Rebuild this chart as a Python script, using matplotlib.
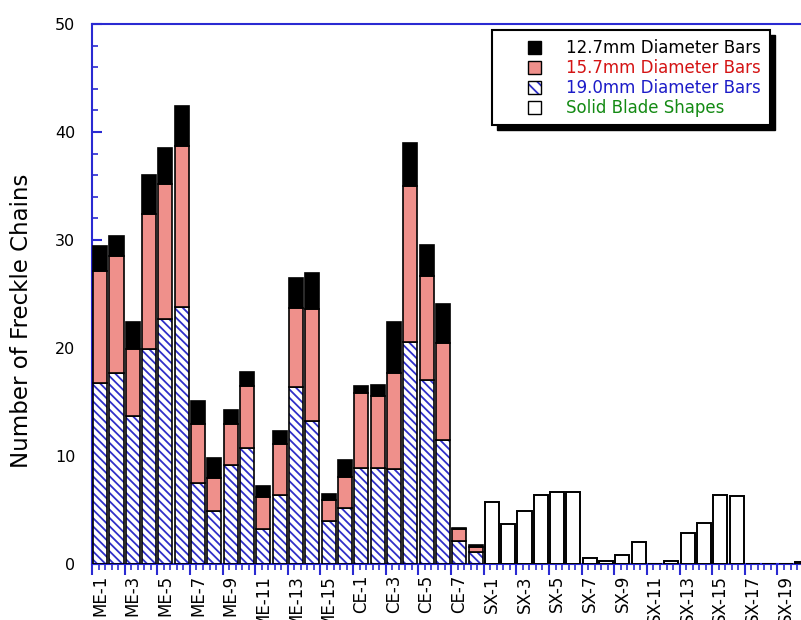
import numpy as np
import matplotlib
matplotlib.use("Agg")
import matplotlib.pyplot as plt
from matplotlib.patches import Patch, Rectangle
from matplotlib.ticker import MultipleLocator

# categories (ME / CE bar samples, then SX solid blade shapes)
bar_labels = ['ME-1', 'ME-2', 'ME-3', 'ME-4', 'ME-5', 'ME-6', 'ME-7', 'ME-8',
              'ME-9', 'ME-10', 'ME-11', 'ME-12', 'ME-13', 'ME-14', 'ME-15', 'ME-16',
              'CE-1', 'CE-2', 'CE-3', 'CE-4', 'CE-5', 'CE-6', 'CE-7', 'CE-8']
sx_labels = ['SX-1', 'SX-2', 'SX-3', 'SX-4', 'SX-5', 'SX-6', 'SX-7', 'SX-8',
             'SX-9', 'SX-10', 'SX-11', 'SX-12', 'SX-13', 'SX-14', 'SX-15', 'SX-16',
             'SX-17', 'SX-18', 'SX-19', 'SX-20']

# stacked values, given as the top of each segment (cumulative)
d190_top = [16.8, 17.7, 13.7, 19.9, 22.7, 23.8, 7.5, 4.9, 9.2, 10.7, 3.2, 6.4,
            16.4, 13.2, 4.0, 5.2, 8.9, 8.9, 8.8, 20.6, 17.0, 11.5, 2.1, 1.14]
d157_top = [27.1, 28.5, 19.9, 32.4, 35.2, 38.7, 13.0, 8.0, 13.0, 16.5, 6.2, 11.1,
            23.7, 23.6, 5.9, 8.1, 15.8, 15.6, 17.7, 35.0, 26.7, 20.5, 3.2, 1.6]
d127_top = [29.4, 30.4, 22.4, 36.0, 38.5, 42.4, 15.1, 9.8, 14.3, 17.8, 7.2, 12.3,
            26.5, 26.9, 6.5, 9.6, 16.5, 16.6, 22.4, 39.0, 29.5, 24.1, 3.3, 1.76]
# solid blade shapes
sx_vals = [5.7, 3.7, 4.9, 6.4, 6.7, 6.7, 0.53, 0.25, 0.83, 2.0, 0.0, 0.28,
           2.9, 3.8, 6.4, 6.3, 0.0, 0.0, 0.0, 0.2]

categories = bar_labels + sx_labels

axis_blue = '#2a2ad2'
hatch_blue = '#2f2fc8'
pink = '#ef908b'
width = 0.86

plt.rcParams['font.family'] = ['DejaVu Sans']
plt.rcParams['hatch.linewidth'] = 1.3

fig = plt.figure(figsize=(8.01, 6.2), dpi=100)
ax = fig.add_axes([92 / 801, 56 / 620, 709 / 801, 540 / 620])

xb = np.arange(len(bar_labels))
xs = np.arange(len(bar_labels), len(categories))
b190 = np.array(d190_top)
b157 = np.array(d157_top)
b127 = np.array(d127_top)

# blue hatched part (hatch drawn in blue, outline drawn separately in black)
ax.bar(xb, b190, width, color='white', edgecolor=hatch_blue, hatch='\\\\\\\\',
       linewidth=0, zorder=2)
ax.bar(xb, b190, width, facecolor='none', edgecolor='black', linewidth=1.2, zorder=3)
ax.bar(xb, b157 - b190, width, bottom=b190, color=pink, edgecolor='black',
       linewidth=1.2, zorder=3)
ax.bar(xb, b127 - b157, width, bottom=b157, color='black', edgecolor='black',
       linewidth=1.2, zorder=3)
ax.bar(xs, sx_vals, width, color='white', edgecolor='black', linewidth=1.4, zorder=3)

ax.set_xlim(-width / 2, 42.94)
ax.set_ylim(0, 50)

for side in ['left', 'bottom', 'top']:
    ax.spines[side].set_color(axis_blue)
    ax.spines[side].set_linewidth(1.5)
ax.spines['right'].set_visible(False)

# y ticks point inward
ax.yaxis.set_major_locator(MultipleLocator(10))
ax.yaxis.set_minor_locator(MultipleLocator(2))
ax.tick_params(axis='y', which='major', direction='in', length=7, width=1.5,
               color=axis_blue, labelsize=11.5, pad=12)
ax.tick_params(axis='y', which='minor', direction='in', length=4, width=1.2,
               color=axis_blue)

# x ticks: long every two categories, short ones every 0.4
ax.set_xticks(np.arange(-0.5, 43, 2))
ax.set_xticks(np.arange(-0.5, 43, 0.4), minor=True)
ax.tick_params(axis='x', which='major', direction='out', length=8, width=1.5,
               color=axis_blue, labelbottom=False)
ax.tick_params(axis='x', which='minor', direction='out', length=4, width=1.2,
               color=axis_blue)

# category labels on every second bar
sec = ax.secondary_xaxis('bottom')
sec.set_xticks(np.arange(0, len(categories), 2))
sec.set_xticklabels(categories[::2], rotation=90, fontsize=12)
sec.tick_params(length=0, pad=8)
sec.spines['bottom'].set_visible(False)

ax.set_ylabel('Number of Freckle Chains', fontsize=16.5)
ax.yaxis.set_label_coords(-0.083, 0.45)

# legend box with a hard black shadow
bx0, bx1, by0, by1 = 492, 770, 30, 125
tx = ax.transAxes
ax.add_patch(Rectangle(((bx0 + 5 - 92) / 709, (564 - by1 - 5) / 540),
                       (bx1 - bx0) / 709, (by1 - by0) / 540, transform=tx,
                       facecolor='black', edgecolor='black', zorder=6, clip_on=False))
ax.add_patch(Rectangle(((bx0 - 92) / 709, (564 - by1) / 540),
                       (bx1 - bx0) / 709, (by1 - by0) / 540, transform=tx,
                       facecolor='white', edgecolor='black', linewidth=1.5,
                       zorder=7, clip_on=False))

handles = [Patch(facecolor='black', edgecolor='black'),
           Patch(facecolor=pink, edgecolor='black'),
           (Patch(facecolor='white', edgecolor=hatch_blue, hatch='\\\\\\', linewidth=0),
            Patch(facecolor='none', edgecolor='black')),
           Patch(facecolor='white', edgecolor='black')]
names = ['12.7mm Diameter Bars', '15.7mm Diameter Bars',
         '19.0mm Diameter Bars', 'Solid Blade Shapes']
leg = ax.legend(handles, names, loc='upper left',
                bbox_to_anchor=((528 - 92) / 709, (564 - 39) / 540),
                fontsize=12, frameon=False,
                handlelength=0.8, handleheight=0.8, handletextpad=1.5,
                labelspacing=0.12, borderpad=0, borderaxespad=0)
leg.set_zorder(8)
for txt, col in zip(leg.get_texts(), ['black', '#d41414', '#1c1cc8', '#138a13']):
    txt.set_color(col)

fig.savefig('out.png', dpi=100)
